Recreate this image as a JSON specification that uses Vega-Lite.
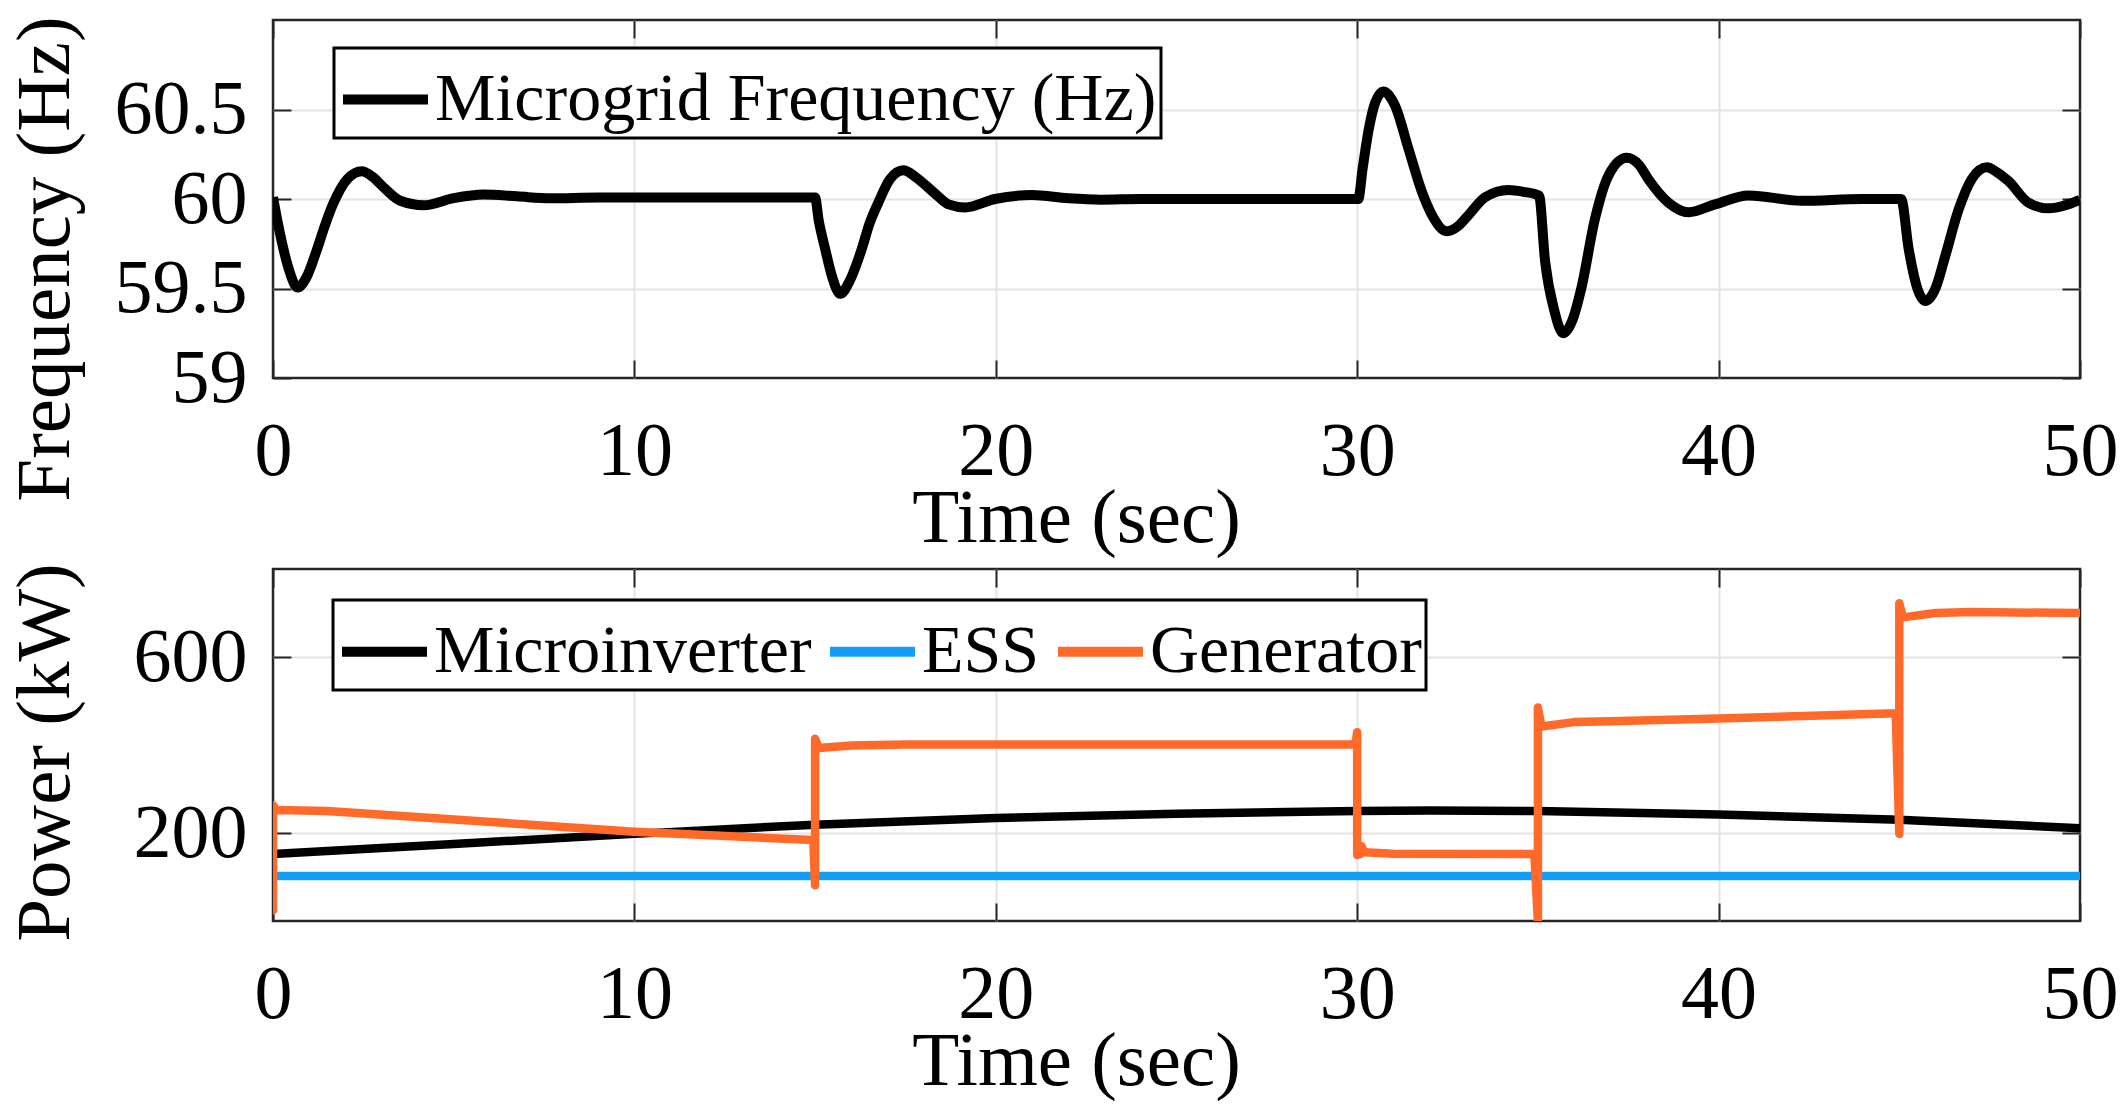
{
  "$schema": "https://vega.github.io/schema/vega-lite/v6.json",
  "padding": {"left": 4, "top": 14, "right": 0, "bottom": 0},
  "background": "white",
  "spacing": 191,
  "bounds": "flush",
  "datasets": {
    "freq": [
      {"t":0,"f":60.01},{"t":0.12,"f":59.88},{"t":0.29,"f":59.72},{"t":0.45,"f":59.6},{"t":0.68,"f":59.505},{"t":0.92,"f":59.56},{"t":1.22,"f":59.72},{"t":1.45,"f":59.86},{"t":1.68,"f":59.98},{"t":2.05,"f":60.11},{"t":2.46,"f":60.155},{"t":2.75,"f":60.125},{"t":3.06,"f":60.065},{"t":3.52,"f":59.99},{"t":4.17,"f":59.965},{"t":5.0,"f":60.005},{"t":5.83,"f":60.025},{"t":6.75,"f":60.015},{"t":7.67,"f":60.004},{"t":9.0,"f":60.008},{"t":12.0,"f":60.008},{"t":15.0,"f":60.008},
      {"t":15.1,"f":59.88},{"t":15.28,"f":59.72},{"t":15.45,"f":59.58},{"t":15.7,"f":59.47},{"t":15.95,"f":59.54},{"t":16.29,"f":59.72},{"t":16.5,"f":59.86},{"t":16.75,"f":59.98},{"t":17.07,"f":60.11},{"t":17.44,"f":60.16},{"t":17.8,"f":60.12},{"t":18.32,"f":60.03},{"t":18.69,"f":59.97},{"t":19.15,"f":59.953},{"t":19.98,"f":60.0},{"t":21.0,"f":60.022},{"t":22.0,"f":60.004},{"t":22.9,"f":59.996},{"t":24.0,"f":60.0},{"t":27.0,"f":60.0},{"t":30.03,"f":60.0},
      {"t":30.15,"f":60.17},{"t":30.32,"f":60.39},{"t":30.5,"f":60.54},{"t":30.73,"f":60.6},{"t":31.05,"f":60.52},{"t":31.42,"f":60.28},{"t":31.79,"f":60.04},{"t":32.07,"f":59.91},{"t":32.48,"f":59.82},{"t":32.8,"f":59.85},{"t":33.08,"f":59.91},{"t":33.54,"f":60.01},{"t":34.19,"f":60.05},{"t":34.6,"f":60.04},{"t":35.03,"f":60.02},
      {"t":35.2,"f":59.65},{"t":35.45,"f":59.38},{"t":35.7,"f":59.25},{"t":35.95,"f":59.32},{"t":36.2,"f":59.5},{"t":36.58,"f":59.89},{"t":36.95,"f":60.13},{"t":37.46,"f":60.23},{"t":37.8,"f":60.19},{"t":38.06,"f":60.11},{"t":38.61,"f":59.98},{"t":39.17,"f":59.926},{"t":39.9,"f":59.97},{"t":40.83,"f":60.02},{"t":42.3,"f":59.99},{"t":43.96,"f":60.0},{"t":45.05,"f":60.0},
      {"t":45.26,"f":59.72},{"t":45.5,"f":59.5},{"t":45.72,"f":59.43},{"t":46.0,"f":59.5},{"t":46.27,"f":59.68},{"t":46.64,"f":59.94},{"t":47.0,"f":60.11},{"t":47.42,"f":60.177},{"t":47.7,"f":60.15},{"t":48.02,"f":60.1},{"t":48.57,"f":59.98},{"t":49.13,"f":59.948},{"t":49.6,"f":59.965},{"t":50.0,"f":59.995}
    ],
    "power": [
      {"series":"Microinverter","i":1,"t":0,"p":152},{"series":"Microinverter","i":2,"t":5,"p":175},{"series":"Microinverter","i":3,"t":10,"p":198},{"series":"Microinverter","i":4,"t":15,"p":219},{"series":"Microinverter","i":5,"t":20,"p":234},{"series":"Microinverter","i":6,"t":25,"p":244},{"series":"Microinverter","i":7,"t":30,"p":250},{"series":"Microinverter","i":8,"t":32,"p":251},{"series":"Microinverter","i":9,"t":35,"p":250},{"series":"Microinverter","i":10,"t":40,"p":242},{"series":"Microinverter","i":11,"t":45,"p":230},{"series":"Microinverter","i":12,"t":50,"p":211},
      {"series":"ESS","i":1,"t":0,"p":102},{"series":"ESS","i":2,"t":50,"p":102},
      {"series":"Generator","i":1,"t":0,"p":24},{"series":"Generator","i":2,"t":0,"p":263},{"series":"Generator","i":3,"t":0.1,"p":252},{"series":"Generator","i":4,"t":1.5,"p":250},{"series":"Generator","i":5,"t":10,"p":203},{"series":"Generator","i":6,"t":14.95,"p":184},{"series":"Generator","i":7,"t":15,"p":81},{"series":"Generator","i":8,"t":15,"p":414},{"series":"Generator","i":9,"t":15.1,"p":393},{"series":"Generator","i":10,"t":16,"p":399},{"series":"Generator","i":11,"t":17.5,"p":401},{"series":"Generator","i":12,"t":29.95,"p":401},{"series":"Generator","i":13,"t":30,"p":429},{"series":"Generator","i":14,"t":30,"p":150},{"series":"Generator","i":15,"t":30.08,"p":152},{"series":"Generator","i":16,"t":30.12,"p":170},{"series":"Generator","i":17,"t":30.2,"p":156},{"series":"Generator","i":18,"t":31,"p":153},{"series":"Generator","i":19,"t":34.9,"p":152},{"series":"Generator","i":20,"t":35,"p":0},{"series":"Generator","i":21,"t":35,"p":485},{"series":"Generator","i":22,"t":35.1,"p":442},{"series":"Generator","i":23,"t":36,"p":452},{"series":"Generator","i":24,"t":37,"p":454},{"series":"Generator","i":25,"t":40,"p":460},{"series":"Generator","i":26,"t":44.9,"p":472},{"series":"Generator","i":27,"t":45,"p":198},{"series":"Generator","i":28,"t":45,"p":722},{"series":"Generator","i":29,"t":45.1,"p":690},{"series":"Generator","i":30,"t":46,"p":700},{"series":"Generator","i":31,"t":47,"p":702},{"series":"Generator","i":32,"t":50,"p":700}
    ]
  },
  "vconcat": [
    {
      "width": 1807,
      "height": 358,
      "data": {"name": "freq"},
      "layer": [
        {
          "mark": {"type": "line", "strokeWidth": 10, "interpolate": "monotone", "strokeJoin": "round", "clip": true},
          "encoding": {
            "x": {"field": "t", "type": "quantitative", "scale": {"domain": [0, 50], "nice": false, "zero": false},
              "axis": {"values": [0,10,20,30,40,50], "format": "d", "labelFlush": false, "labelBaseline": "alphabetic", "labelPadding": 114,
                "title": "Time (sec)", "titleX": 803, "titleY": 163, "titleAlign": "center", "titleBaseline": "alphabetic",
                "gridOpacity": {"condition": {"test": "datum.value == 0 || datum.value == 50", "value": 0}, "value": 1}}},
            "y": {"field": "f", "type": "quantitative", "scale": {"domain": [59, 61], "nice": false, "zero": false},
              "axis": {"values": [59,59.5,60,60.5], "format": ".1~f", "labelPadding": 44, "labelBaseline": "middle",
                "title": "Frequency (Hz)", "titleX": -205, "titleY": 238.5, "titleAngle": 270, "titleAlign": "center", "titleBaseline": "alphabetic",
                "gridOpacity": {"condition": {"test": "datum.value == 59", "value": 0}, "value": 1}}},
            "color": {"datum": "Microgrid Frequency (Hz)", "type": "nominal", "scale": {"range": ["#000000"]},
              "legend": {"orient": "none", "legendX": 61, "legendY": 28, "direction": "horizontal", "title": null}}
          }
        },
        {
          "mark": {"type": "line", "opacity": 0},
          "encoding": {
            "x": {"field": "t", "type": "quantitative", "axis": {"orient": "top", "values": [0,10,20,30,40,50], "labels": false, "grid": false, "title": null}},
            "y": {"field": "f", "type": "quantitative", "axis": {"orient": "right", "values": [59,59.5,60,60.5], "labels": false, "grid": false, "title": null}}
          }
        }
      ],
      "resolve": {"axis": {"x": "independent", "y": "independent"}}
    },
    {
      "width": 1807,
      "height": 352,
      "data": {"name": "power"},
      "layer": [
        {
          "transform": [{"filter": "datum.series != 'Generator'"}],
          "mark": {"type": "line", "strokeWidth": 8.5, "clip": true},
          "encoding": {
            "x": {"field": "t", "type": "quantitative", "scale": {"domain": [0, 50], "nice": false, "zero": false},
              "axis": {"values": [0,10,20,30,40,50], "format": "d", "labelFlush": false, "labelBaseline": "alphabetic", "labelPadding": 114,
                "title": "Time (sec)", "titleX": 803, "titleY": 163, "titleAlign": "center", "titleBaseline": "alphabetic",
                "gridOpacity": {"condition": {"test": "datum.value == 0 || datum.value == 50", "value": 0}, "value": 1}}},
            "y": {"field": "p", "type": "quantitative", "scale": {"domain": [0, 800], "nice": false, "zero": false},
              "axis": {"values": [200, 600], "format": "d", "labelPadding": 44, "labelBaseline": "middle",
                "title": "Power (kW)", "titleX": -205, "titleY": 183, "titleAngle": 270, "titleAlign": "center", "titleBaseline": "alphabetic"}},
            "color": {"field": "series", "type": "nominal",
              "scale": {"domain": ["Microinverter", "ESS", "Generator"], "range": ["#000000", "#139FF7", "#FF6A2A"]},
              "legend": {"orient": "none", "legendX": 60, "legendY": 31, "direction": "horizontal", "columns": 3, "title": null}},
            "order": {"field": "i", "type": "quantitative"}
          }
        },
        {
          "transform": [{"filter": "datum.series == 'Generator'"}],
          "mark": {"type": "line", "strokeWidth": 8.5, "strokeCap": "round", "strokeJoin": "round", "clip": true},
          "encoding": {
            "x": {"field": "t", "type": "quantitative", "axis": null},
            "y": {"field": "p", "type": "quantitative", "axis": null},
            "color": {"field": "series", "type": "nominal"},
            "order": {"field": "i", "type": "quantitative"}
          }
        },
        {
          "mark": {"type": "line", "opacity": 0},
          "encoding": {
            "x": {"field": "t", "type": "quantitative", "axis": {"orient": "top", "values": [0,10,20,30,40,50], "labels": false, "grid": false, "title": null}},
            "y": {"field": "p", "type": "quantitative", "axis": {"orient": "right", "values": [200, 600], "labels": false, "grid": false, "title": null}},
            "detail": {"field": "series"},
            "order": {"field": "i", "type": "quantitative"}
          }
        }
      ],
      "resolve": {"axis": {"x": "independent", "y": "independent"}}
    }
  ],
  "resolve": {"scale": {"color": "independent"}, "legend": {"color": "independent"}},
  "config": {
    "font": "Times New Roman, Liberation Serif, DejaVu Serif, serif",
    "view": {"stroke": "#262626", "strokeWidth": 2.5},
    "axis": {
      "labelFont": "Times New Roman, Liberation Serif, DejaVu Serif, serif", "labelFontSize": 76, "labelColor": "#000000",
      "titleFont": "Times New Roman, Liberation Serif, DejaVu Serif, serif", "titleFontSize": 77, "titleFontWeight": "normal", "titleColor": "#000000",
      "gridColor": "#e3e3e3", "gridWidth": 2, "domain": false,
      "ticks": true, "tickColor": "#262626", "tickWidth": 2, "tickSize": -18
    },
    "legend": {
      "labelFont": "Times New Roman, Liberation Serif, DejaVu Serif, serif", "labelFontSize": 68, "labelColor": "#000000", "labelLimit": 2000,
      "symbolType": "stroke", "symbolSize": 7225, "symbolStrokeWidth": 10, "labelOffset": 2,
      "columnPadding": -2, "padding": 4, "fillColor": "white", "strokeColor": "#000000", "strokeWidth": 3, "cornerRadius": 0
    }
  }
}
